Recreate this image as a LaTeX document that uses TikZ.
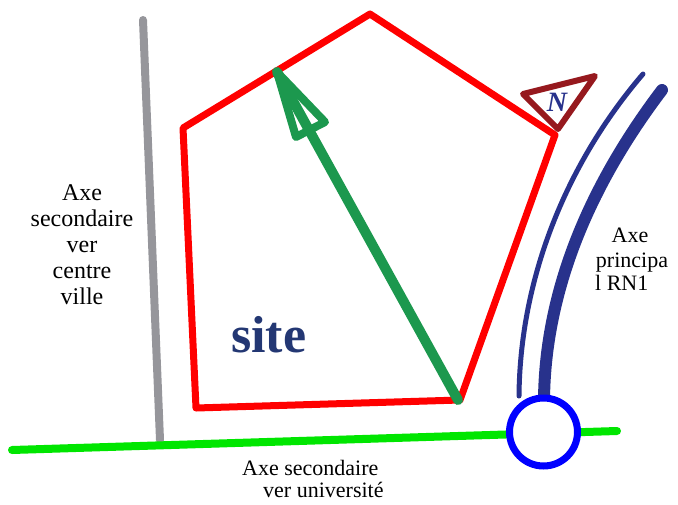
\documentclass[tikz,border=0pt]{standalone}
\usepackage{fontspec}
\setmainfont{Liberation Serif}
\definecolor{roadgray}{RGB}{150,150,155}
\definecolor{roadgreen}{RGB}{0,230,0}
\definecolor{arrowgreen}{RGB}{28,152,78}
\definecolor{navy}{RGB}{40,50,140}
\definecolor{sitenavy}{RGB}{35,55,115}
\definecolor{northred}{RGB}{150,25,30}
\tikzset{
  lbl/.style={font=\fontsize{22}{25.5}\selectfont, text=black, inner sep=0pt, align=center},
  road/.style={line width=#1, line cap=round},
}
\begin{document}
\begin{tikzpicture}[x=1pt,y=-1pt]
\useasboundingbox (0,0) rectangle (678,504);
% gray secondary axis
\coordinate (g1) at (143,20);
\coordinate (g2) at (160,440);
\draw[road=8pt, roadgray] (g1) -- (g2);
% green secondary axis
\coordinate (h1) at (12,450);
\coordinate (h2) at (617,431);
\draw[road=8pt, roadgreen] (h1) -- (h2);
% blue main axis curves
\coordinate (b1) at (643,74);
\coordinate (b2) at (519,396);
\draw[road=5pt, navy] (b1) .. controls (565,165) and (520,280) .. (b2);
\coordinate (c1) at (662,90);
\coordinate (c2) at (544,400);
\draw[road=12pt, navy] (c1) .. controls (590,185) and (545,290) .. (c2);
% roundabout
\node[circle, draw=blue, fill=white, line width=7pt, minimum size=68pt, inner sep=0pt] (rond) at (543.5,432) {};
% site polygon
\coordinate (p1) at (183,128);
\coordinate (p2) at (370,14);
\coordinate (p3) at (555,135);
\coordinate (p4) at (460,400);
\coordinate (p5) at (196,408);
\draw[red, line width=7pt, line join=round] (p1) -- (p2) -- (p3) -- (p4) -- (p5) -- cycle;
% north triangle
\coordinate (n1) at (523,94);
\coordinate (n2) at (595,76);
\coordinate (n3) at (558,129);
\draw[northred, line width=6pt, line join=round] (n1) -- (n2) -- (n3) -- cycle;
\node[font=\fontsize{28}{28}\selectfont\bfseries\itshape, text=navy, inner sep=0pt] (N) at (557,102) {N};
% green arrow
\coordinate (a0) at (458,400);
\coordinate (a1) at (277,72);
\coordinate (aL) at (296,137);
\coordinate (aR) at (325,122);
\draw[road=10pt, arrowgreen] (a0) -- (a1);
\draw[arrowgreen, line width=8pt, line join=round] (a1) -- (aL) -- (aR) -- cycle;
% texts
\node[lbl, font=\fontsize{24}{26}\selectfont] (t1) at (82,245) {Axe\\secondaire\\ver\\centre\\ville};
\node[lbl, anchor=base] (t2) at (630,242) {Axe};
\node[lbl, anchor=base] (t3) at (632,267) {principa};
\node[lbl, anchor=base west] (t4) at (595,290) {l RN1};
\node[lbl, anchor=base west] (t5) at (242,475) {Axe secondaire};
\node[lbl, anchor=base west] (t6) at (263,497) {ver université};
\node[font=\fontsize{52}{52}\selectfont\bfseries, text=sitenavy, inner sep=0pt, anchor=base west] (site) at (231,352) {site};
\end{tikzpicture}
\end{document}
